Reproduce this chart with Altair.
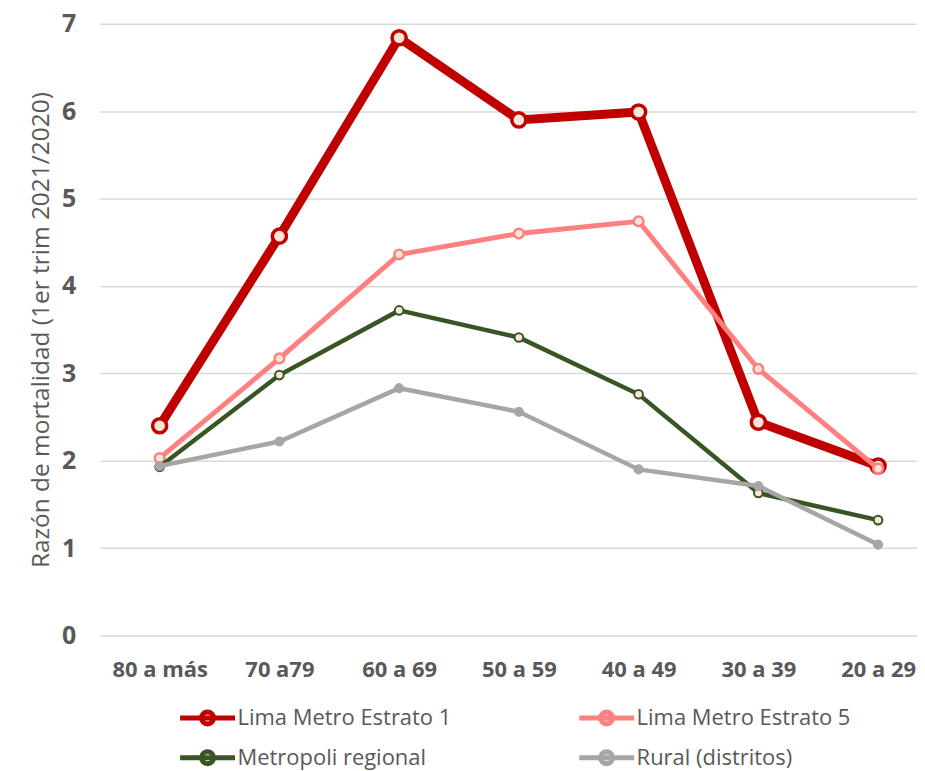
import altair as alt
import pandas as pd

ages = ["80 a más", "70 a79", "60 a 69", "50 a 59", "40 a 49", "30 a 39", "20 a 29"]
series_names = ["Lima Metro Estrato 1", "Metropoli regional", "Lima Metro Estrato 5", "Rural (distritos)"]
estrato1 = [2.40, 4.57, 6.84, 5.90, 5.99, 2.44, 1.94]
metropoli = [1.93, 2.98, 3.72, 3.41, 2.76, 1.63, 1.32]
estrato5 = [2.03, 3.17, 4.36, 4.60, 4.74, 3.05, 1.91]
rural = [1.94, 2.22, 2.83, 2.56, 1.90, 1.71, 1.04]

colors = ["#c00000", "#375623", "#ff8080", "#a6a6a6"]
fills = ["#fbe5d6", "#fbe5d6", "#fbe5d6", "#a6a6a6"]
line_widths = [9, 4.5, 5, 4.5]
point_sizes = [200, 75, 95, 85]
point_strokes = [3.5, 2, 2.5, 1]
draw_order = ["Lima Metro Estrato 1", "Lima Metro Estrato 5", "Metropoli regional", "Rural (distritos)"]

rows = []
for name, vals in zip(series_names, [estrato1, metropoli, estrato5, rural]):
    for a, v in zip(ages, vals):
        rows.append({"edad": a, "serie": name, "valor": v})
df = pd.DataFrame(rows)

font = "Open Sans"
grey = "#595959"

x = alt.X("edad:N", sort=ages, title=None,
          scale=alt.Scale(type="point", padding=0.4125, align=0.606),
          axis=alt.Axis(labelAngle=0, labelFontWeight="bold", labelFontSize=22,
                        labelColor=grey, labelFont=font, ticks=False, domain=False,
                        labelPadding=24, grid=False))
y = alt.Y("valor:Q", title="Razón de mortalidad (1er trim 2021/2020)",
          scale=alt.Scale(domain=[0, 7]),
          axis=alt.Axis(values=[0, 1, 2, 3, 4, 5, 6, 7], format="d", labelFontWeight="bold",
                        labelFontSize=25, labelColor=grey, labelFont=font, ticks=False,
                        domain=False, labelPadding=24, gridColor="#d9d9d9", gridWidth=1.5,
                        titleFont=font, titleFontSize=24.5, titleFontWeight="normal",
                        titleColor=grey, titlePadding=8))

legend_path = "M-1,0L2.67,0M1.23,0A0.4,0.4,0,1,1,0.43,0A0.4,0.4,0,1,1,1.23,0Z"

scale_stroke = alt.Scale(domain=series_names, range=colors)
stroke_plain = alt.Stroke("serie:N", scale=scale_stroke, legend=None)
stroke_legend = alt.Stroke("serie:N", scale=scale_stroke,
                           legend=alt.Legend(title=None, orient="none", legendX=78, legendY=678,
                                             columns=2, columnPadding=117, rowPadding=6,
                                             symbolType=legend_path, symbolSize=900,
                                             symbolStrokeWidth=5, symbolOpacity=1,
                                             symbolFillColor="#fbe5d6",
                                             labelFont=font, labelFontSize=22, labelColor=grey,
                                             labelOffset=25, labelLimit=400))

base = alt.Chart(df)
layers = []
for name in draw_order:
    i = series_names.index(name)
    sub = base.transform_filter(alt.datum.serie == name)
    layers.append(sub.mark_line(strokeWidth=line_widths[i]).encode(x=x, y=y, stroke=stroke_plain))
    layers.append(sub.mark_point(filled=False, opacity=1, fill=fills[i], size=point_sizes[i],
                                 strokeWidth=point_strokes[i]).encode(x=x, y=y, stroke=stroke_plain))

legend_layer = base.mark_point(filled=False, fill="#fbe5d6", opacity=0).encode(
    x=x, y=y, stroke=stroke_legend,
)
layers.append(legend_layer)

chart = alt.layer(*layers).resolve_legend(stroke="independent").properties(
    width=819, height=613, padding={"left": 20, "top": 3, "right": 0, "bottom": 0}
).configure_view(stroke=None)

chart.save("out.html", embed_options={"renderer": "svg", "actions": False})
